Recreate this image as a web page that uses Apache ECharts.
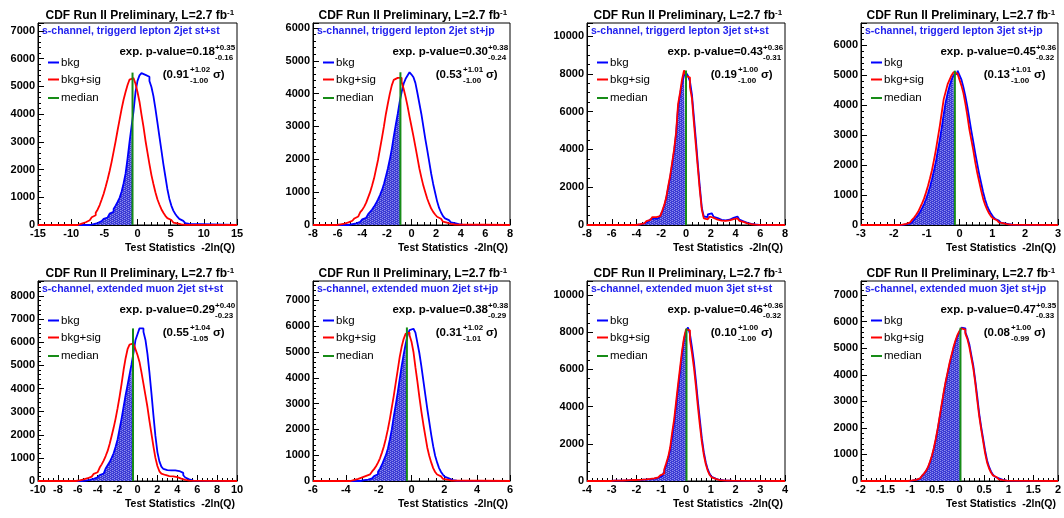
<!DOCTYPE html>
<html>
<head>
<meta charset="utf-8">
<script src="https://cdn.jsdelivr.net/npm/echarts@6/dist/echarts.min.js"></script>
<style>
  html, body { margin: 0; padding: 0; background: #fff; }
  #chart { width: 1064px; height: 518px; }
</style>
</head>
<body>
<div id="chart"></div>
<script>
// ---------------- data ----------------
// Pseudo-experiment distributions of -2ln(Q), 100 bins over each x range.
// Each array holds consecutive non-empty bins starting at the matching *FirstEdge.
const subtitles = [
  's-channel, triggerd lepton 2jet st+st',
  's-channel, triggerd lepton 2jet st+jp',
  's-channel, triggerd lepton 3jet st+st',
  's-channel, triggerd lepton 3jet st+jp',
  's-channel, extended muon 2jet st+st',
  's-channel, extended muon 2jet st+jp',
  's-channel, extended muon 3jet st+st',
  's-channel, extended muon 3jet st+jp'
];
const pValues   = ['0.18', '0.30', '0.43', '0.45', '0.29', '0.38', '0.46', '0.47'];
const pValUp    = ['+0.35', '+0.38', '+0.36', '+0.36', '+0.40', '+0.38', '+0.36', '+0.35'];
const pValDown  = ['-0.16', '-0.24', '-0.31', '-0.32', '-0.23', '-0.29', '-0.32', '-0.33'];
const sigmas    = ['0.91', '0.53', '0.19', '0.13', '0.55', '0.31', '0.10', '0.08'];
const sigmaUp   = ['+1.02', '+1.01', '+1.00', '+1.01', '+1.04', '+1.02', '+1.00', '+1.00'];
const sigmaDown = ['-1.00', '-1.00', '-1.00', '-1.00', '-1.05', '-1.01', '-1.00', '-0.99'];

const xMins  = [-15, -8, -8, -3, -10, -6, -4, -2];
const xMaxs  = [15, 8, 8, 3, 10, 6, 4, 2];
const xSteps = [5, 2, 2, 1, 2, 2, 1, 0.5];
const yMaxs  = [7290, 6150, 10690, 6740, 8650, 7750, 10750, 7530];
const ySteps = [1000, 1000, 2000, 1000, 1000, 1000, 2000, 1000];

const medians       = [-0.75, -0.90, 0.00, -0.14, -0.45, -0.28, 0.02, 0.02];
const medianHeights = [5500, 4650, 8180, 5150, 6600, 5950, 8200, 5770];

const bkgFirstEdge = [-7.2, -5.12, -4.0, -1.80, -5.6, -3.12, -3.04, -1.04];
const sigFirstEdge = [-9.0, -6.08, -4.0, -1.86, -6.2, -3.72, -3.04, -1.04];

const p1Bkg = [20,35,50,70,95,140,180,220,270,340, 410,480,580,700,830,980,1200,1500,1850,2400,
  3000,3550,4100,4800,5200,5400,5480,5420,5480,5350, 5200,4980,4650,4200,3700,3200,2700,2200,1750,1300,
  950,700,520,400,300,220,150,100,70,40, 20];
const p1Sig = [30,50,70,100,130,170,210,280,350,440, 560,720,920,1130,1380,1650,1950,2280,2650,3020,
  3420,3800,4180,4520,4800,5050,5250,5300,5280,5100, 4800,4450,3980,3550,3050,2620,2200,1800,1480,1180,
  930,740,570,440,330,250,180,130,90,60, 40,25,15,8];

const p2Bkg = [15,25,35,50,70,95,130,170,220,270, 330,400,470,560,660,780,910,1060,1250,1480,
  1720,2000,2320,2700,3050,3380,3750,4050,4300,4450, 4550,4650,4580,4500,4320,4020,3700,3380,3000,2620,
  2280,1920,1560,1250,980,720,520,380,270,200, 150,110,80,55,40,28,18,10];
const p2Sig = [15,20,30,40,55,80,105,130,160,200, 260,320,390,460,560,680,840,1000,1200,1420,
  1700,1980,2320,2650,3000,3380,3700,4000,4250,4420, 4480,4450,4480,4350,4150,3900,3620,3300,3000,2700,
  2380,2050,1720,1450,1200,1000,800,640,500,400, 320,250,190,140,100,70,50,35,25,15, 10];

const p3Bkg = [15,30,50,80,120,170,230,300,350,350, 340,400,500,700,1000,1400,1950,2500,3200,3900,
  4800,6200,6900,7500,7900,8050,7900,7600,6900,5700, 4500,3200,2000,900,450,420,560,620,520,430,
  360,300,270,250,250,260,280,320,380,430, 450,380,280,200,150,110,80,55,40,28, 18,10];
const p3Sig = [20,40,60,90,140,200,270,350,420,420, 400,470,560,750,1050,1450,2050,2600,3300,4000,
  4900,6400,7000,7700,8180,7900,7800,7300,6700,5400, 4200,3000,1800,800,350,300,400,450,380,320,
  280,250,230,220,220,230,240,270,310,340, 350,300,220,160,120,90,60,40,30,20, 12,8];

const p4Bkg = [10,15,25,40,60,90,130,180,250,330, 440,560,700,860,1050,1270,1520,1800,2100,2480,
  2850,3250,3700,4100,4400,4650,4850,5000,5050,5150, 5000,4850,4600,4300,3950,3550,3150,2780,2400,2050,
  1700,1400,1100,850,650,500,380,280,210,150, 110,80,55,38,25,15,10,5];
const p4Sig = [10,15,25,40,60,90,130,180,250,340, 440,580,720,880,1080,1300,1550,1820,2150,2500,
  2900,3300,3750,4200,4450,4700,4850,5000,5100,5050, 5000,4850,4650,4400,4050,3650,3200,2850,2500,2100,
  1750,1450,1150,880,680,520,390,290,220,160, 120,85,60,40,28,18,10,5];

const p5Bkg = [15,20,30,45,60,90,120,160,210,260, 320,400,540,680,820,1000,1200,1480,1800,2250,
  2700,3200,3700,4150,4600,5050,5550,6100,6350,6600, 6600,6450,6100,5500,4700,3800,2850,1950,1250,850,
  620,520,470,460,460,470,460,440,430,400, 350,250,150,70,30,12];
const p5Sig = [20,30,45,70,90,120,150,190,250,310, 380,460,580,720,880,1080,1300,1600,1950,2300,
  2700,3150,3650,4200,4800,5300,5700,5900,5950,5950, 5700,5450,5150,4700,4200,3700,3200,2600,2050,1500,
  1000,650,420,320,260,230,210,200,200,190, 170,140,100,70,45,25,15,8];

const p6Bkg = [20,30,40,55,75,100,140,190,260,360, 480,630,820,1000,1250,1600,2000,2500,2950,3420,
  3950,4450,4900,5300,5650,5850,5900,5900,5750,5350, 4950,4450,3900,3350,2800,2300,1800,1350,980,720,
  500,350,240,160,100,60,35,20,10];
const p6Sig = [30,45,60,80,110,140,170,200,230,260, 300,370,460,570,710,880,1100,1350,1650,2000,
  2400,2850,3300,3800,4300,4800,5200,5500,5700,5750, 5650,5400,5000,4400,3850,3250,2700,2200,1750,1300,
  980,720,500,350,250,180,120,80,50,30, 20,10];

const p7Bkg = [12,15,17,20,22,25,28,32,36,40,45,50,55,
  60,65,70,75,85,95,105,115,130,150, 180,220,260,350,520,850,1200,1650,2350,3100,
  4000,4950,5850,6800,7600,8050,8250,7900,7200,6400, 5400,4300,3300,2300,1550,1000,620,370,220,130,
  80,55,42,32,26,20,18,15];
const p7Sig = [15,18,20,22,25,28,30,35,40,45,50,55,60,
  65,70,75,80,90,100,110,120,140,160, 190,230,300,400,620,950,1300,1800,2600,3300,
  4250,5200,6100,7000,7700,8150,8100,7600,6900,6100, 5100,4000,3000,2100,1400,900,550,320,190,110,
  70,50,40,30,25,20,18,15];

const p8Bkg = [10,15,25,40,60,90,130,190,270,370, 500,690,920,1200,1550,1950,2400,2850,3300,3700,
  4050,4400,4700,5000,5250,5450,5600,5770,5750,5600, 5400,5150,4750,4350,3800,3200,2550,2050,1600,1150,
  780,540,360,240,160,100,65,40,25,15, 10];
const p8Sig = [15,20,30,45,70,100,140,200,280,380, 520,720,950,1250,1600,2000,2450,2900,3350,3750,
  4100,4450,4750,5050,5300,5500,5650,5750,5700,5550, 5350,5050,4650,4250,3700,3050,2450,1950,1500,1050,
  700,480,320,210,140,90,60,35,20,12, 8];

const bkgSets = [p1Bkg, p2Bkg, p3Bkg, p4Bkg, p5Bkg, p6Bkg, p7Bkg, p8Bkg];
const sigSets = [p1Sig, p2Sig, p3Sig, p4Sig, p5Sig, p6Sig, p7Sig, p8Sig];
const NBINS = 100;

// ---------------- layout & style ----------------
const gridLefts  = [38, 313, 587, 861];
const gridWidths = [199, 197, 198, 197];
const rowTops    = [23, 281];
const rowHeights = [202, 200];

const FONT = '"Liberation Sans", Arial, Helvetica, sans-serif';
const BLUE = '#0000ff', RED = '#ff0000', GREEN = '#178c17', SUB_BLUE = '#2323ee';

// hatch used under the background-only curve left of the median
const hatch = document.createElement('canvas');
hatch.width = 4; hatch.height = 4;
(function () {
  const c = hatch.getContext('2d');
  c.fillStyle = '#3a3ad4';
  c.fillRect(0, 0, 4, 4);
  c.fillStyle = '#8e8eec';
  c.fillRect(0, 0, 1, 1); c.fillRect(2, 1, 1, 1);
  c.fillRect(0, 2, 1, 1); c.fillRect(2, 3, 1, 1);
  c.fillStyle = '#6262e0';
  c.fillRect(1, 2, 1, 1); c.fillRect(3, 0, 1, 1);
})();

// step outline of a histogram over the whole axis range
function histPoints(firstEdge, w, vals, xMin, xMax) {
  const pts = [[xMin, 0]];
  for (let i = 0; i < vals.length; i++) pts.push([firstEdge + i * w, vals[i]]);
  pts.push([firstEdge + vals.length * w, 0]);
  pts.push([xMax, 0]);
  return pts;
}
// step outline of the bins left of the median, closed at the median
function fillPoints(firstEdge, w, vals, median) {
  const pts = [[firstEdge, 0]];
  for (let i = 0; i < vals.length; i++) {
    const e = firstEdge + i * w;
    if (e >= median) break;
    pts.push([e, vals[i]]);
  }
  pts.push([median, 0]);
  return pts;
}

const grids = [], xAxes = [], yAxes = [], series = [], graphics = [];

function txt(x, y, text, size, weight, align, color) {
  graphics.push({
    type: 'text', silent: true, z: 100,
    style: {
      x: x, y: y, text: text, fill: color || '#000',
      fontSize: size, fontWeight: weight, fontFamily: FONT,
      align: align, textAlign: align,
      verticalAlign: 'middle', textVerticalAlign: 'middle'
    }
  });
}
function seg(x1, y1, x2, y2, color, width) {
  graphics.push({
    type: 'line', silent: true, z: 100,
    shape: { x1: x1, y1: y1, x2: x2, y2: y2 },
    style: { stroke: color, lineWidth: width }
  });
}

for (let p = 0; p < 8; p++) {
  const row = p < 4 ? 0 : 1, col = p % 4;
  const L = gridLefts[col], W = gridWidths[col];
  const T = rowTops[row], H = rowHeights[row];
  const R = L + W, B = T + H;

  grids.push({ left: L, top: T, width: W, height: H, show: true,
    borderColor: '#000', borderWidth: 1, backgroundColor: 'transparent' });

  const labelStyle = { color: '#000', fontWeight: 'bold', fontSize: 11, fontFamily: FONT };
  xAxes.push({
    type: 'value', gridIndex: p, min: xMins[p], max: xMaxs[p], interval: xSteps[p],
    axisLine: { show: true, onZero: false, lineStyle: { color: '#000', width: 1 } },
    axisTick: { show: true, inside: true, length: 6, lineStyle: { color: '#000' } },
    minorTick: { show: true, splitNumber: xSteps[p] === 2 ? 4 : 5, length: 3, lineStyle: { color: '#000' } },
    splitLine: { show: false },
    axisLabel: Object.assign({ margin: 3, showMinLabel: true, showMaxLabel: true }, labelStyle)
  });
  const ys = ySteps[p];
  yAxes.push({
    type: 'value', gridIndex: p, min: 0, max: yMaxs[p], interval: ys,
    axisLine: { show: true, onZero: false, lineStyle: { color: '#000', width: 1 } },
    axisTick: { show: true, inside: true, length: 6, lineStyle: { color: '#000' } },
    minorTick: { show: true, splitNumber: ys === 2000 ? 4 : 5, length: 3, lineStyle: { color: '#000' } },
    splitLine: { show: false },
    axisLabel: Object.assign({
      margin: 3, showMaxLabel: false,
      formatter: function (v) { return (Math.abs(v / ys - Math.round(v / ys)) < 1e-6) ? String(v) : ''; }
    }, labelStyle)
  });

  const w = (xMaxs[p] - xMins[p]) / NBINS;
  const base = { type: 'line', xAxisIndex: p, yAxisIndex: p, step: 'end', symbol: 'none',
    silent: true, animation: false };

  series.push(Object.assign({}, base, {
    name: 'hatch' + p,
    data: fillPoints(bkgFirstEdge[p], w, bkgSets[p], medians[p]),
    lineStyle: { width: 0, opacity: 0 },
    areaStyle: { color: { image: hatch, repeat: 'repeat' }, opacity: 1 }
  }));
  series.push(Object.assign({}, base, {
    name: 'bkg' + p,
    data: histPoints(bkgFirstEdge[p], w, bkgSets[p], xMins[p], xMaxs[p]),
    lineStyle: { color: BLUE, width: 1.8 }
  }));
  series.push(Object.assign({}, base, {
    name: 'sig' + p,
    data: histPoints(sigFirstEdge[p], w, sigSets[p], xMins[p], xMaxs[p]),
    lineStyle: { color: RED, width: 1.8 }
  }));
  series.push(Object.assign({}, base, {
    name: 'median' + p, step: false,
    data: [[medians[p], 0], [medians[p], medianHeights[p]]],
    lineStyle: { color: GREEN, width: 2 }
  }));

  // header
  txt(R - 10, T - 7, 'CDF Run II Preliminary, L=2.7 fb', 12, 'bold', 'right');
  txt(R - 10, T - 10, '-1', 8, 'bold', 'left');
  txt(L + 4, T + 8, subtitles[p], 10.5, 'bold', 'left', SUB_BLUE);

  // expected p-value and significance
  txt(R - 22, T + 29, 'exp. p-value=' + pValues[p], 11.5, 'bold', 'right');
  txt(R - 22, T + 25, pValUp[p], 8, 'bold', 'left');
  txt(R - 22, T + 35, pValDown[p], 8, 'bold', 'left');
  txt(R - 48, T + 52, '(' + sigmas[p], 11.5, 'bold', 'right');
  txt(R - 47, T + 47, sigmaUp[p], 8, 'bold', 'left');
  txt(R - 47, T + 57.5, sigmaDown[p], 8, 'bold', 'left');
  txt(R - 24, T + 52, 'σ)', 11.5, 'bold', 'left');

  // legend
  const legend = [['bkg', BLUE, 39.5], ['bkg+sig', RED, 56.5], ['median', GREEN, 75]];
  legend.forEach(function (e) {
    seg(L + 10, T + e[2], L + 21, T + e[2], e[1], 2);
    txt(L + 23, T + e[2], e[0], 11.5, 'normal', 'left');
  });

  // axis title
  txt(R - 2, B + 23, 'Test Statistics  -2ln(Q)', 10.5, 'bold', 'right');
}

const chart = echarts.init(document.getElementById('chart'), null, { renderer: 'canvas' });
chart.setOption({
  animation: false,
  backgroundColor: '#fff',
  grid: grids,
  xAxis: xAxes,
  yAxis: yAxes,
  series: series,
  graphic: { elements: graphics }
});
</script>
</body>
</html>
